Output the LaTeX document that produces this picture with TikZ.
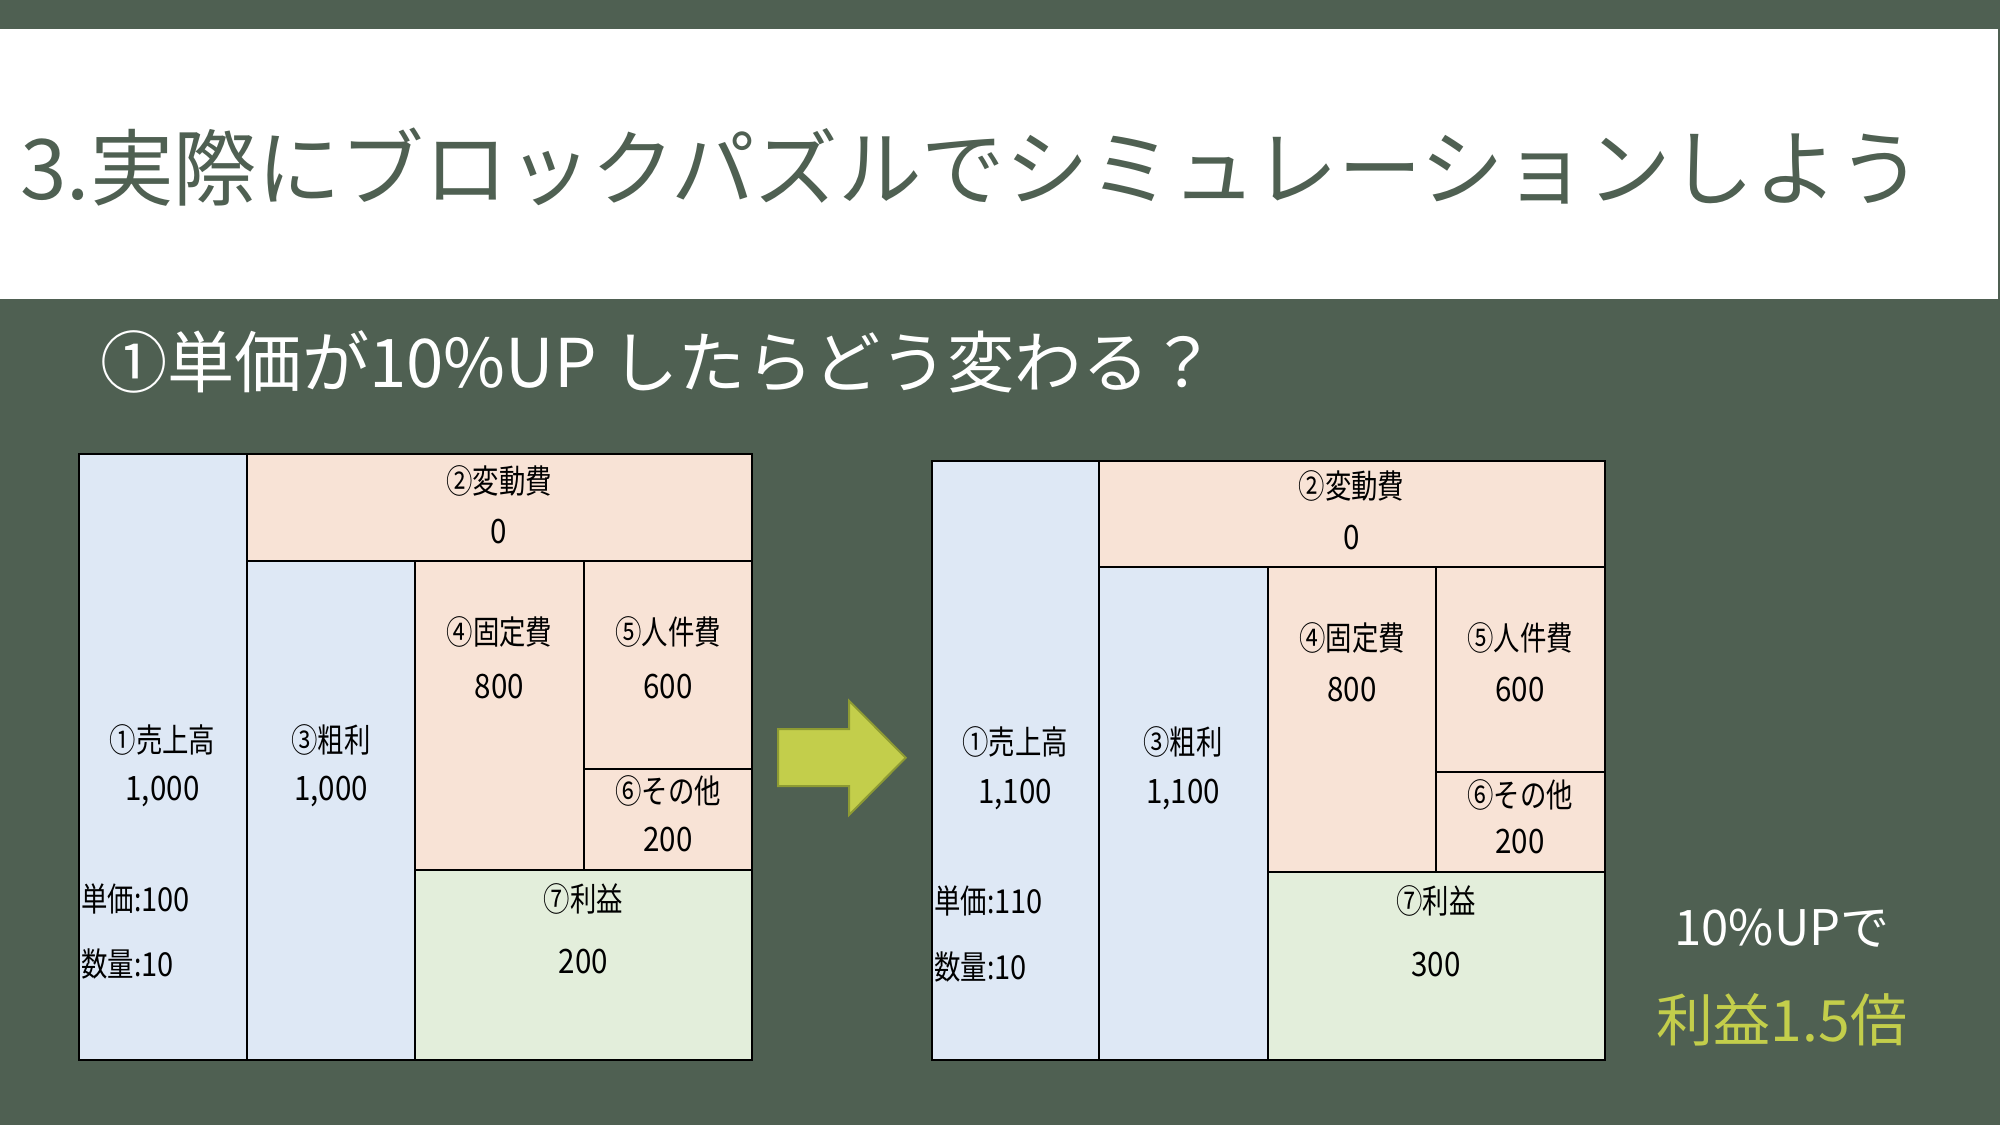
\documentclass[tikz,border=0pt]{standalone}
\usepackage{fontspec}
\setmainfont{Noto Sans CJK JP}
\newfontfamily\cellfont[FakeStretch=0.8]{Noto Sans CJK JP}
\newfontfamily\numfont[FakeStretch=0.88]{Noto Sans CJK JP}
\definecolor{slate}{HTML}{4F6052}
\definecolor{salesblue}{HTML}{DEE8F5}
\definecolor{costpeach}{HTML}{F8E3D6}
\definecolor{profitgreen}{HTML}{E3EEDB}
\definecolor{lime}{HTML}{C3CE4B}
\definecolor{limeedge}{HTML}{8E9B33}

\begin{document}
\begin{tikzpicture}[x=0.5pt,y=-0.5pt,
    cell/.style={draw=black,line width=1pt},
    lab/.style={font=\cellfont\fontsize{16.5pt}{18pt}\selectfont,text=black,inner sep=0pt},
    val/.style={font=\numfont\fontsize{16.8pt}{18pt}\selectfont,text=black,inner sep=0pt},
    note/.style={lab,anchor=west}]

    \useasboundingbox (0,0) rectangle (2000,1125);
    \fill[slate] (0,0) rectangle (2000,1125);
    \fill[white] (0,29) rectangle (1998,299);

    \node[anchor=west,inner sep=0pt,text=slate,font=\fontsize{41.8pt}{46pt}\selectfont] (title) at (20,167) {3.実際にブロックパズルでシミュレーションしよう};
    \node[anchor=west,inner sep=0pt,text=white,font=\fontsize{33.6pt}{37pt}\selectfont] (question) at (100,362) {①単価が10\%UP したらどう変わる？};

    % before
    \draw[cell,fill=salesblue] (79,454) rectangle (246.5,1060);
    \draw[cell,fill=costpeach] (246.5,454) rectangle (752,561);
    \draw[cell,fill=salesblue] (246.5,561) rectangle (415,1060);
    \draw[cell,fill=costpeach] (415,561) rectangle (584,869.5);
    \draw[cell,fill=costpeach] (584,561) rectangle (752,769);
    \draw[cell,fill=costpeach] (584,769) rectangle (752,869.5);
    \draw[cell,fill=profitgreen] (415,869.5) rectangle (752,1060);

    \node[lab] (varA) at (499,481) {②変動費};
    \node[val] (varAv) at (499,532) {0};
    \node[lab] (fixA) at (499.5,632) {④固定費};
    \node[val] (fixAv) at (499.5,687) {800};
    \node[lab] (staffA) at (668,632) {⑤人件費};
    \node[val] (staffAv) at (668,687) {600};
    \node[lab] (otherA) at (668,791) {⑥その他};
    \node[val] (otherAv) at (668,840) {200};
    \node[lab] (salesA) at (162.5,740) {①売上高};
    \node[val] (salesAv) at (162.5,791) {1,000};
    \node[lab] (grossA) at (331,740) {③粗利};
    \node[val] (grossAv) at (331,791) {1,000};
    \node[note] (priceA) at (81,899) {単価:{\numfont 100}};
    \node[note] (qtyA) at (81,964) {数量:{\numfont 10}};
    \node[lab] (profitA) at (583.5,899) {⑦利益};
    \node[val] (profitAv) at (583.5,962) {200};

    % arrow
    \draw[fill=lime,draw=limeedge,line width=1pt,line join=miter]
      (778,729) -- (849,729) -- (849,700.7) -- (905.7,757.7) -- (849,815) -- (849,786) -- (778,786) -- cycle;

    % after
    \draw[cell,fill=salesblue] (931.5,461) rectangle (1098.5,1060);
    \draw[cell,fill=costpeach] (1098.5,461) rectangle (1604.5,566.5);
    \draw[cell,fill=salesblue] (1098.5,566.5) rectangle (1267.5,1060);
    \draw[cell,fill=costpeach] (1267.5,566.5) rectangle (1436,871.5);
    \draw[cell,fill=costpeach] (1436,566.5) rectangle (1604.5,772);
    \draw[cell,fill=costpeach] (1436,772) rectangle (1604.5,871.5);
    \draw[cell,fill=profitgreen] (1267.5,871.5) rectangle (1604.5,1060);

    \node[lab] (varB) at (1351.5,486) {②変動費};
    \node[val] (varBv) at (1351.5,538) {0};
    \node[lab] (fixB) at (1352,638) {④固定費};
    \node[val] (fixBv) at (1352,690) {800};
    \node[lab] (staffB) at (1520,638) {⑤人件費};
    \node[val] (staffBv) at (1520,690) {600};
    \node[lab] (otherB) at (1520,795) {⑥その他};
    \node[val] (otherBv) at (1520,842) {200};
    \node[lab] (salesB) at (1015,742) {①売上高};
    \node[val] (salesBv) at (1015,794) {1,100};
    \node[lab] (grossB) at (1183,742) {③粗利};
    \node[val] (grossBv) at (1183,794) {1,100};
    \node[note] (priceB) at (934,901) {単価:{\numfont 110}};
    \node[note] (qtyB) at (934,966.5) {数量:{\numfont 10}};
    \node[lab] (profitB) at (1436,901) {⑦利益};
    \node[val] (profitBv) at (1436,964.5) {300};

    \node[inner sep=0pt,text=white,font=\fontsize{24.5pt}{28pt}\selectfont] (upnote) at (1782,928) {10\%UPで};
    \node[inner sep=0pt,text=lime,font=\fontsize{28.5pt}{32pt}\selectfont] (result) at (1782,1020) {利益1.5倍};
  \end{tikzpicture}
\end{document}
